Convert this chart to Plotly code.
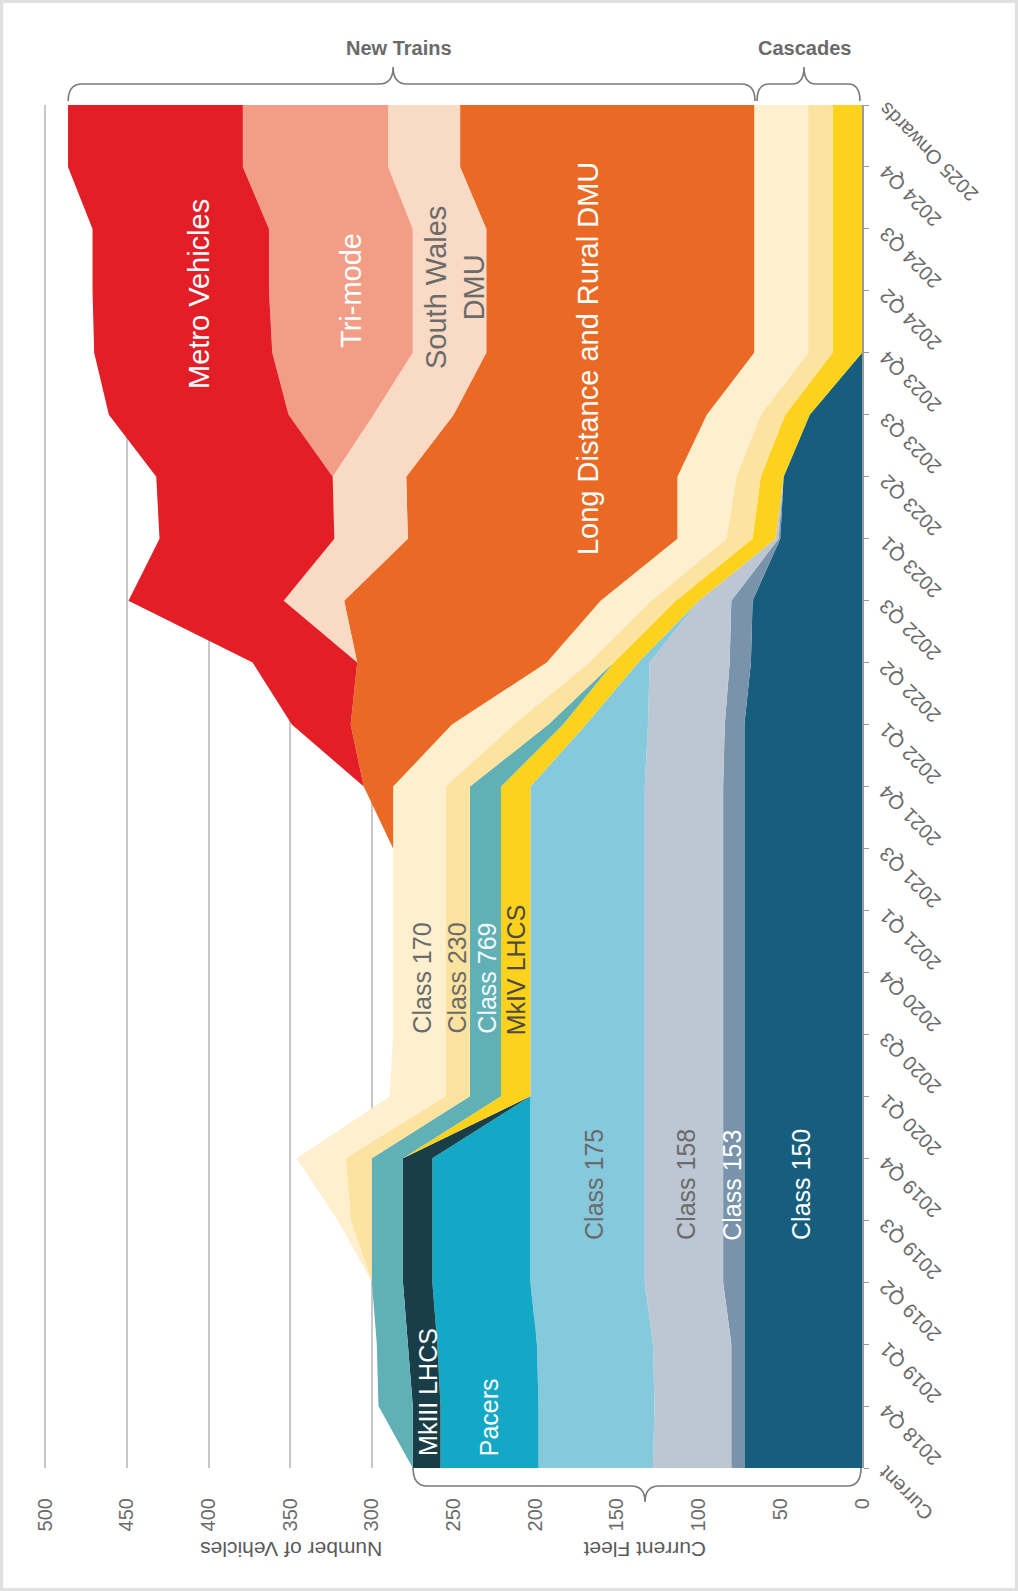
import plotly.graph_objects as go

# ---------------- data ----------------
categories = ["Current", "2018 Q4", "2019 Q1", "2019 Q2", "2019 Q3", "2019 Q4",
              "2020 Q1", "2020 Q3", "2020 Q4", "2021 Q1", "2021 Q3", "2021 Q4",
              "2022 Q1", "2022 Q2", "2022 Q3", "2023 Q1", "2023 Q2", "2023 Q3",
              "2023 Q4", "2024 Q2", "2024 Q3", "2024 Q4", "2025 Onwards"]

class150 = [72, 72, 72, 72, 72, 72, 72, 72, 72, 72, 72, 72, 72, 68, 67, 50, 48, 32, 0, 0, 0, 0, 0]
class153 = [8, 8, 8, 13, 13, 13, 13, 13, 13, 13, 13, 13, 12, 13, 13, 1, 0, 0, 0, 0, 0, 0, 0]
class158 = [48, 47, 48, 48, 48, 48, 48, 48, 48, 48, 48, 48, 47, 49, 20, 2, 0, 0, 0, 0, 0, 0, 0]
class175 = [70, 71, 71, 70, 70, 70, 70, 70, 70, 70, 70, 70, 38, 7, 0, 0, 0, 0, 0, 0, 0, 0, 0]
pacers = [60, 60, 61, 60, 60, 60, 0, 0, 0, 0, 0, 0, 0, 0, 0, 0, 0, 0, 0, 0, 0, 0, 0]
mk3_lhcs = [17, 17, 18, 18, 18, 18, 0, 0, 0, 0, 0, 0, 0, 0, 0, 0, 0, 0, 0, 0, 0, 0, 0]
mk4_lhcs = [0, 0, 0, 0, 0, 0, 18, 18, 18, 18, 18, 18, 14, 15, 14, 14, 14, 15, 18, 18, 18, 18, 18]
class769 = [0, 21, 19, 19, 19, 19, 19, 19, 19, 19, 19, 19, 9, 0, 0, 0, 0, 0, 0, 0, 0, 0, 0]
class230 = [0, 0, 0, 0, 13, 16, 15, 15, 15, 15, 15, 15, 21, 15, 15, 16, 15, 15, 15, 15, 15, 15, 15]
class170 = [0, 0, 0, 0, 8, 30, 34, 32, 32, 32, 32, 32, 38, 26, 31, 30, 36, 33, 33, 33, 33, 33, 33]
long_distance = [0, 0, 0, 0, 0, 0, 0, 0, 0, 0, 0, 18, 62, 116, 157, 165, 166, 155, 164, 164, 164, 180, 180]
south_wales = [0, 0, 0, 0, 0, 0, 0, 0, 0, 0, 0, 0, 0, 0, 37, 45, 45, 49, 45, 45, 45, 44, 44]
tri_mode = [0, 0, 0, 0, 0, 0, 0, 0, 0, 0, 0, 0, 0, 0, 0, 0, 0, 52, 86, 88, 88, 89, 89]
metro = [0, 0, 0, 0, 0, 0, 0, 0, 0, 0, 0, 0, 36, 64, 95, 107, 108, 110, 109, 108, 108, 107, 107]

value_ticks = [0, 50, 100, 150, 200, 250, 300, 350, 400, 450, 500]

series = [
    ("Class 150", class150, "#175E7E"),
    ("Class 153", class153, "#7893AA"),
    ("Class 158", class158, "#BCC7D3"),
    ("Class 175", class175, "#86C8DC"),
    ("Pacers", pacers, "#13A8C6"),
    ("MkIII LHCS", mk3_lhcs, "#193E47"),
    ("MkIV LHCS", mk4_lhcs, "#FDD21C"),
    ("Class 769", class769, "#60B0B6"),
    ("Class 230", class230, "#FCE39F"),
    ("Class 170", class170, "#FEF0CE"),
    ("Long Distance and Rural DMU", long_distance, "#EA6A25"),
    ("South Wales DMU", south_wales, "#F9DAC4"),
    ("Tri-mode", tri_mode, "#F29E86"),
    ("Metro Vehicles", metro, "#E31E26"),
]

# ---------------- geometry (pixels) ----------------
W, H = 1018, 1591
R, T, B = 862, 105, 1468
PX_PER_UNIT = 817 / 500.0
XMAX = 505
L = R - XMAX * PX_PER_UNIT
FONT = "Liberation Sans, Arial, sans-serif"
GREY = "#6b6b6b"


def px(xp):
    return (xp - L) / (R - L)


def py(yp):
    return (B - yp) / (B - T)


fig = go.Figure()
for name, vals, col in series:
    fig.add_trace(go.Scatter(
        x=vals, y=categories, name=name, stackgroup="fleet", orientation="h",
        mode="none", fillcolor=col, hoverinfo="x+name"))

# ---------------- area labels ----------------
area_labels = [
    ("Metro Vehicles", 405.8, 18.95, "white", 29),
    ("Tri-mode", 312.7, 19.0, "white", 29),
    ("South Wales<br>DMU", 249.0, 19.05, GREY, 29),
    ("Long Distance and Rural DMU", 167.7, 17.9, "white", 29),
    ("Class 170", 269.9, 7.9, GREY, 25),
    ("Class 230", 247.9, 7.9, GREY, 25),
    ("Class 769", 230.1, 7.9, "#F4FBFC", 25),
    ("MkIV LHCS", 211.8, 8.05, "#4d4a40", 25),
    ("Class 175", 164.0, 4.57, GREY, 25),
    ("Class 158", 107.7, 4.57, GREY, 25),
    ("Class 153", 79.6, 4.57, "white", 25),
    ("Class 150", 37.3, 4.57, "white", 25),
    ("MkIII LHCS", 265.6, 1.23, "white", 25),
    ("Pacers", 228.3, 0.82, "white", 25),
]
annotations = []
for text, xv, yi, col, size in area_labels:
    annotations.append(dict(x=xv, y=yi, xref="x", yref="y", text=text, textangle=-90,
                            showarrow=False, xanchor="center", yanchor="middle",
                            font=dict(family=FONT, size=size, color=col)))

# category tick labels (rotated, upside-down)
for cat in categories:
    annotations.append(dict(x=1, xref="paper", y=cat, yref="y", text=cat, textangle=-135,
                            showarrow=False, xanchor="left", yanchor="top",
                            xshift=10, yshift=9,
                            font=dict(family=FONT, size=20, color=GREY)))

# axis titles / bracket labels
annotations += [
    dict(x=px(291), y=py(1550), xref="paper", yref="paper", text="Number of Vehicles",
         textangle=180, showarrow=False, xanchor="center", yanchor="middle",
         font=dict(family=FONT, size=21, color="#5a5a5a")),
    dict(x=px(645), y=py(1550), xref="paper", yref="paper", text="Current Fleet",
         textangle=180, showarrow=False, xanchor="center", yanchor="middle",
         font=dict(family=FONT, size=21, color="#5a5a5a")),
    dict(x=px(399), y=py(48), xref="paper", yref="paper", text="<b>New Trains</b>",
         showarrow=False, xanchor="center", yanchor="middle",
         font=dict(family=FONT, size=20, color="#6a6a6a")),
    dict(x=px(804), y=py(48), xref="paper", yref="paper", text="<b>Cascades</b>",
         showarrow=False, xanchor="center", yanchor="middle",
         font=dict(family=FONT, size=20, color="#6a6a6a")),
]


def brace(x1, x2, xm, y_end, y_line, y_tip, r=14):
    pts = [
        ("M", [(x1, y_end)]),
        ("Q", [(x1, y_line), (x1 + r, y_line)]),
        ("L", [(xm - r, y_line)]),
        ("Q", [(xm, y_line), (xm, y_tip)]),
        ("Q", [(xm, y_line), (xm + r, y_line)]),
        ("L", [(x2 - r, y_line)]),
        ("Q", [(x2, y_line), (x2, y_end)]),
    ]
    out = []
    for cmd, coords in pts:
        out.append(cmd + " " + " ".join(f"{px(a):.5f},{py(b):.5f}" for a, b in coords))
    return " ".join(out)


shapes = [
    dict(type="rect", xref="paper", yref="paper", x0=px(3), x1=px(W - 3), y0=py(H - 3), y1=py(3),
         fillcolor="white", line=dict(width=0), layer="below"),
    dict(type="path", xref="paper", yref="paper", path=brace(413, 861, 645, 1468, 1486, 1502),
         line=dict(color="#7a7a7a", width=1.6)),
    dict(type="path", xref="paper", yref="paper", path=brace(68, 755, 393, 101, 84, 67),
         line=dict(color="#7a7a7a", width=1.6)),
    dict(type="path", xref="paper", yref="paper", path=brace(757, 860, 804, 101, 84, 67, r=12),
         line=dict(color="#7a7a7a", width=1.6)),
]

fig.update_layout(
    width=W, height=H,
    margin=dict(l=L, r=W - R, t=T, b=H - B, pad=0),
    paper_bgcolor="#e0e0e0", plot_bgcolor="white",
    showlegend=False,
    annotations=annotations, shapes=shapes,
    xaxis=dict(range=[XMAX, 0], tickvals=value_ticks, ticktext=[str(v) for v in value_ticks],
               tickangle=-90, showgrid=True, gridcolor="#c8c8c8", gridwidth=1.5,
               zeroline=False, showline=False, ticks="", ticklabelstandoff=25,
               tickfont=dict(family=FONT, size=20, color=GREY)),
    yaxis=dict(type="category", categoryorder="array", categoryarray=categories,
               range=[0, 22], side="right", showgrid=False, zeroline=False,
               showline=True, linecolor="#9a9a9a", linewidth=1.5,
               ticks="outside", ticklen=5, tickcolor="#9a9a9a", showticklabels=False),
)

fig.write_html("out.html",
               config={"displayModeBar": False},
               post_script="document.body.style.margin='0px';document.body.style.padding='0px';"
                           "document.body.style.overflow='hidden';")
